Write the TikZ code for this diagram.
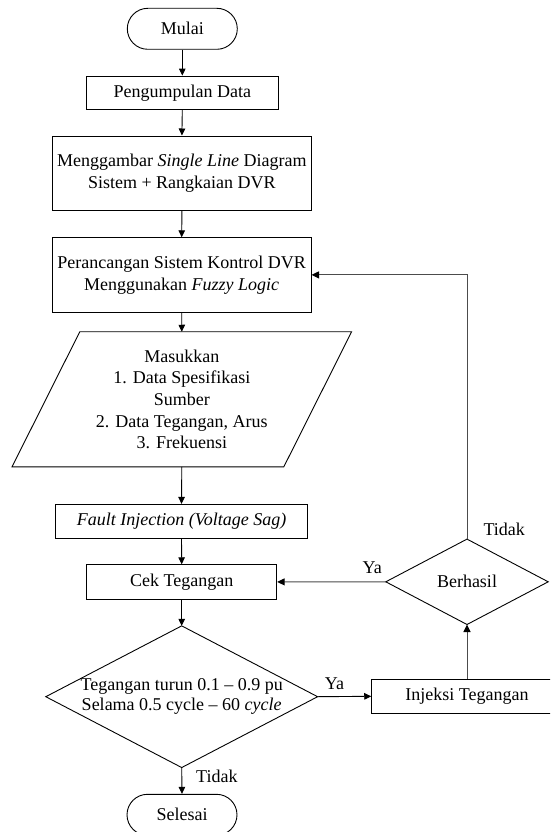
\documentclass[tikz,border=0pt]{standalone}
\usepackage{fontspec}
\setmainfont{Liberation Serif}
\usetikzlibrary{arrows.meta,calc}
\begin{document}
\begin{tikzpicture}[x=1pt,y=-1pt,
  every node/.style={font=\fontsize{18}{21.7}\selectfont, inner sep=0pt, align=center},
  proc/.style={draw, line width=0.9pt},
  term/.style={draw, line width=0.9pt, rounded corners=20.5pt, minimum width=110pt, minimum height=41pt},
  hidden/.style={draw=none},
  lbl/.style={draw=none},
  conn/.style={line width=0.9pt, -{Triangle[length=7pt,width=6.5pt]}},
  gconn/.style={line width=1pt, draw=black!70, -{Triangle[length=7.5pt,width=7pt,color=black]}},
  shapeline/.style={line width=0.9pt, line join=miter}
]
\clip (0,0) rectangle (550,832);
\fill[white] (0,0) rectangle (550,832);

\node[term] (start) at (182.3,28.8) {Mulai};
\node[proc, minimum width=191.3pt, minimum height=33.3pt] (s1) at (182.3,92.7) {Pengumpulan Data};
\node[proc, minimum width=258.3pt, minimum height=74.7pt] (s2) at (181.9,173.3) {Menggambar \textit{Single Line} Diagram\\Sistem + Rangkaian DVR};
\node[proc, minimum width=258.7pt, minimum height=74.3pt] (s3) at (181.7,274.9) {Perancangan Sistem Kontrol DVR\\Menggunakan \textit{Fuzzy Logic}};
\node[hidden, minimum width=271.4pt, minimum height=134.7pt] (in) at (181.8,399.3) {Masukkan\\1. Data Spesifikasi\\Sumber\\2. Data Tegangan, Arus\\3. Frekuensi};
\draw[shapeline] ([xshift=33.9pt]in.north west) -- ([xshift=33.9pt]in.north east) -- ([xshift=-33.9pt]in.south east) -- ([xshift=-33.9pt]in.south west) -- cycle;
\node[proc, minimum width=251.6pt, minimum height=33.7pt] (s4) at (181.5,521.2) {\textit{Fault Injection (Voltage Sag)}};
\node[proc, minimum width=190pt, minimum height=34.3pt] (s5) at (181.7,581.9) {Cek Tegangan};
\node[hidden, minimum width=271.4pt, minimum height=141.3pt, font=\fontsize{18}{20.4}\selectfont] (d1) at (181.7,696.7) {Tegangan turun 0.1 – 0.9 pu\\Selama 0.5 cycle – 60 \textit{cycle}};
\draw[shapeline] (d1.north) -- (d1.east) -- (d1.south) -- (d1.west) -- cycle;
\node[term] (end) at (182,814.8) {Selesai};
\node[proc, minimum width=190.6pt, minimum height=34pt] (s6) at (467,696.3) {Injeksi Tegangan};
\node[hidden, minimum width=162pt, minimum height=85pt] (d2) at (467,581.8) {Berhasil};
\draw[shapeline] (d2.north) -- (d2.east) -- (d2.south) -- (d2.west) -- cycle;

\draw[conn] (start.south) -- (s1.north);
\draw[conn] (s1.south) -- (s2.north);
\draw[conn] (s2.south) -- (s3.north);
\draw[conn] (s3.south) -- (in.north);
\draw[conn] (in.south) -- (s4.north);
\draw[conn] (s4.south) -- (s5.north);
\draw[conn] (s5.south) -- (d1.north);
\draw[conn] (d1.south) -- (end.north);
\draw[conn] (d1.east) -- (s6.west);
\draw[gconn] (s6.north) -- (d2.south);
\draw[gconn] (d2.west) -- (s5.east);
\draw[gconn] (d2.north) |- (s3.east);

\node[lbl] (t1) at (504.2,529.3) {Tidak};
\node[lbl] (y1) at (372.2,567.7) {Ya};
\node[lbl] (y2) at (334.5,683.3) {Ya};
\node[lbl, anchor=west] (t2) at (196,776.7) {Tidak};
\end{tikzpicture}
\end{document}
